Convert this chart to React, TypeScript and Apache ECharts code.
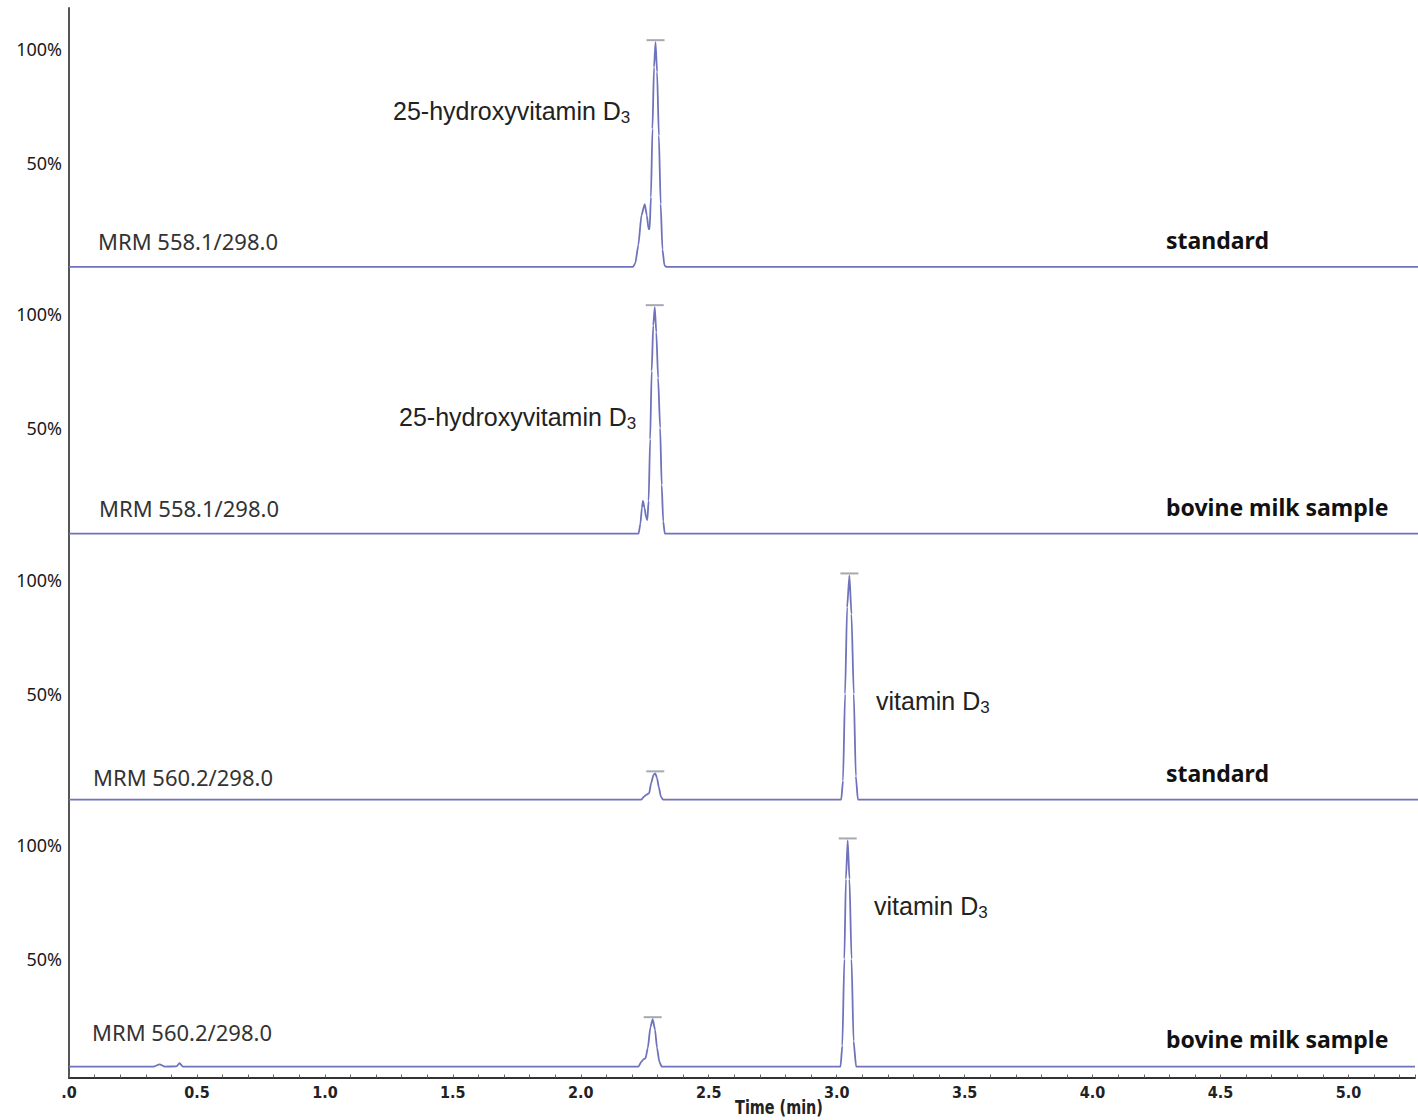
import React, { useEffect, useRef } from 'react';
import * as echarts from 'echarts';

// ---------- data ----------
const timeMin = 0;
const timeMax = 5.26;
const timeStep = 0.1;
const intensityTicks = [50, 100];

const channelLabels = ['MRM 558.1/298.0', 'MRM 558.1/298.0', 'MRM 560.2/298.0', 'MRM 560.2/298.0'];
const sampleLabels = ['standard', 'bovine milk sample', 'standard', 'bovine milk sample'];
const peakNames = ['25-hydroxyvitamin D', '25-hydroxyvitamin D', 'vitamin D', 'vitamin D'];
const peakSubscripts = ['3', '3', '3', '3'];

// [time (min), relative intensity (%)]
const trace1 = [
  [0, 4.4], [2.199, 4.4], [2.208, 6], [2.22, 14], [2.232, 27], [2.245, 32], [2.253, 27], [2.26, 21],
  [2.264, 21], [2.269, 35], [2.275, 65], [2.281, 92], [2.287, 103], [2.293, 90], [2.3, 62],
  [2.307, 32], [2.314, 12], [2.322, 5], [2.33, 4.4], [5.26, 4.4],
];
const trace2 = [
  [0, 3.7], [2.221, 3.7], [2.228, 8], [2.234, 15], [2.238, 18], [2.244, 15], [2.25, 11], [2.255, 9.6],
  [2.26, 18], [2.266, 45], [2.272, 75], [2.278, 95], [2.284, 103], [2.29, 92], [2.297, 72],
  [2.305, 50], [2.311, 25], [2.317, 9], [2.323, 3.7], [5.26, 3.7],
];
const trace3 = [
  [0, 3.7], [2.232, 3.7], [2.242, 5], [2.251, 5.8], [2.262, 6.5], [2.27, 11], [2.279, 14.5],
  [2.286, 15.2], [2.293, 13], [2.3, 9], [2.308, 5], [2.316, 3.7],
  [3.011, 3.7], [3.018, 12], [3.026, 50], [3.034, 88], [3.043, 102], [3.051, 85], [3.06, 50],
  [3.068, 14], [3.076, 3.7], [5.26, 3.7],
];
const trace4 = [
  [0, 2.8], [0.33, 2.8], [0.354, 3.8], [0.375, 2.8], [0.42, 2.9], [0.432, 4.3], [0.445, 2.8],
  [2.225, 2.8], [2.237, 5], [2.245, 6], [2.253, 6.5], [2.262, 11], [2.272, 20], [2.281, 23.6],
  [2.29, 19], [2.298, 11], [2.307, 5], [2.316, 2.8],
  [3.015, 2.8], [3.022, 12], [3.03, 50], [3.036, 85], [3.043, 102], [3.05, 85], [3.058, 50],
  [3.066, 14], [3.076, 2.8], [5.26, 2.8],
];
const traces = [trace1, trace2, trace3, trace4];

const apexMarks = [
  [[2.287, 103]],
  [[2.284, 103]],
  [[2.286, 15.2], [3.043, 102]],
  [[2.281, 23.6], [3.043, 102]],
];

// ---------- layout ----------
const W = 1418;
const H = 1120;
const plotLeft = 69;
const plotWidth = 1349;
const yMin = -2;
const yMax = 118;
const pxPerUnit = 2.28;
const zeroPx = [277, 542, 808, 1073];
const channelPos = [[98, 241], [99, 508], [93, 777], [92, 1032]];
const samplePos = [[1166, 240], [1166, 507], [1166, 773], [1166, 1039]];
const peakPos = [[393, 111], [399, 417], [876, 701], [874, 906]];

const traceColor = '#6e73bb';

export default function App() {
  const ref = useRef<HTMLDivElement>(null);

  useEffect(() => {
    if (!ref.current) return;
    const chart = echarts.init(ref.current, null, { renderer: 'svg', width: W, height: H });
    const gridH = (yMax - yMin) * pxPerUnit;
    const grids = zeroPx.map((z) => ({
      left: plotLeft,
      width: plotWidth,
      top: z + -yMin * pxPerUnit - gridH,
      height: gridH,
      containLabel: false,
    }));
    const last = traces.length - 1;

    const xAxes = traces.map((_, i) => ({
      type: 'value',
      gridIndex: i,
      min: timeMin,
      max: timeMax,
      interval: timeStep,
      show: i === last,
      axisLine: { show: true, onZero: false, lineStyle: { color: '#333', width: 2 } },
      axisTick: { show: true, inside: true, length: 3, lineStyle: { color: '#666', width: 1 } },
      splitLine: { show: false },
      axisLabel: {
        show: true,
        margin: 7,
        color: '#222',
        fontWeight: 'bold',
        fontSize: 16,
        fontFamily: "'Liberation Sans Narrow', 'DejaVu Sans Condensed', 'Liberation Sans', sans-serif",
        formatter: (v: number) => {
          const d = v * 2;
          if (Math.abs(d - Math.round(d)) > 1e-6) return '';
          if (v > timeMax - 0.05) return '';
          if (Math.abs(v) < 1e-9) return '.0';
          return v.toFixed(1);
        },
      },
    }));

    const yAxes = traces.map((_, i) => ({
      type: 'value',
      gridIndex: i,
      min: yMin,
      max: yMax,
      axisLine: { show: true, lineStyle: { color: '#555', width: 2 } },
      axisTick: { show: false },
      splitLine: { show: false },
      axisLabel: {
        show: true,
        customValues: intensityTicks,
        formatter: '{value}%',
        margin: 7,
        color: '#1a1a1a',
        fontSize: 18,
        fontFamily: "'Noto Sans', 'Open Sans', sans-serif",
      },
    }));

    const series = traces.map((t, i) => ({
      type: 'line',
      xAxisIndex: i,
      yAxisIndex: i,
      data: t,
      symbol: 'none',
      smooth: 0.2,
      smoothMonotone: 'x',
      lineStyle: { color: traceColor, width: 1.8 },
      markPoint: {
        symbol: 'rect',
        symbolSize: [18, 2],
        symbolOffset: [0, -2],
        itemStyle: { color: '#a8a8b0' },
        label: { show: false },
        data: apexMarks[i].map((c) => ({ coord: c })),
      },
    }));

    const graphics: any[] = [];
    traces.forEach((_, i) => {
      graphics.push({
        type: 'text',
        x: channelPos[i][0],
        y: channelPos[i][1],
        style: {
          text: channelLabels[i],
          fill: '#333',
          fontSize: 22,
          fontFamily: "'Noto Sans', 'Open Sans', sans-serif",
          verticalAlign: 'middle',
          align: 'left',
        },
      });
      graphics.push({
        type: 'text',
        x: samplePos[i][0],
        y: samplePos[i][1],
        style: {
          text: sampleLabels[i],
          fill: '#111',
          fontSize: 23,
          fontWeight: 'bold',
          fontFamily: "'Noto Sans', 'Open Sans', sans-serif",
          verticalAlign: 'middle',
          align: 'left',
        },
      });
      graphics.push({
        type: 'text',
        x: peakPos[i][0],
        y: peakPos[i][1],
        style: {
          text: peakNames[i] + '{s|' + peakSubscripts[i] + '}',
          fill: '#222',
          fontSize: 25,
          fontFamily: "'Liberation Sans', Arial, sans-serif",
          verticalAlign: 'middle',
          align: 'left',
          rich: {
            s: {
              fontSize: 17,
              fill: '#222',
              fontFamily: "'Liberation Sans', Arial, sans-serif",
              padding: [13, 0, 0, 0],
            },
          },
        },
      });
    });
    graphics.push({
      type: 'text',
      x: 779,
      y: 1107,
      scaleX: 0.8,
      style: {
        text: 'Time (min)',
        fill: '#222',
        fontSize: 20,
        fontWeight: 'bold',
        fontFamily: "'Liberation Sans Narrow', 'DejaVu Sans Condensed', 'Liberation Sans', sans-serif",
        verticalAlign: 'middle',
        align: 'center',
      },
    });

    chart.setOption({
      animation: false,
      backgroundColor: '#ffffff',
      grid: grids,
      xAxis: xAxes,
      yAxis: yAxes,
      series,
      graphic: graphics,
    });
    return () => chart.dispose();
  }, []);

  return (
    <div
      ref={ref}
      style={{ position: 'fixed', left: 0, top: 0, width: W, height: H, background: '#fff' }}
    />
  );
}
